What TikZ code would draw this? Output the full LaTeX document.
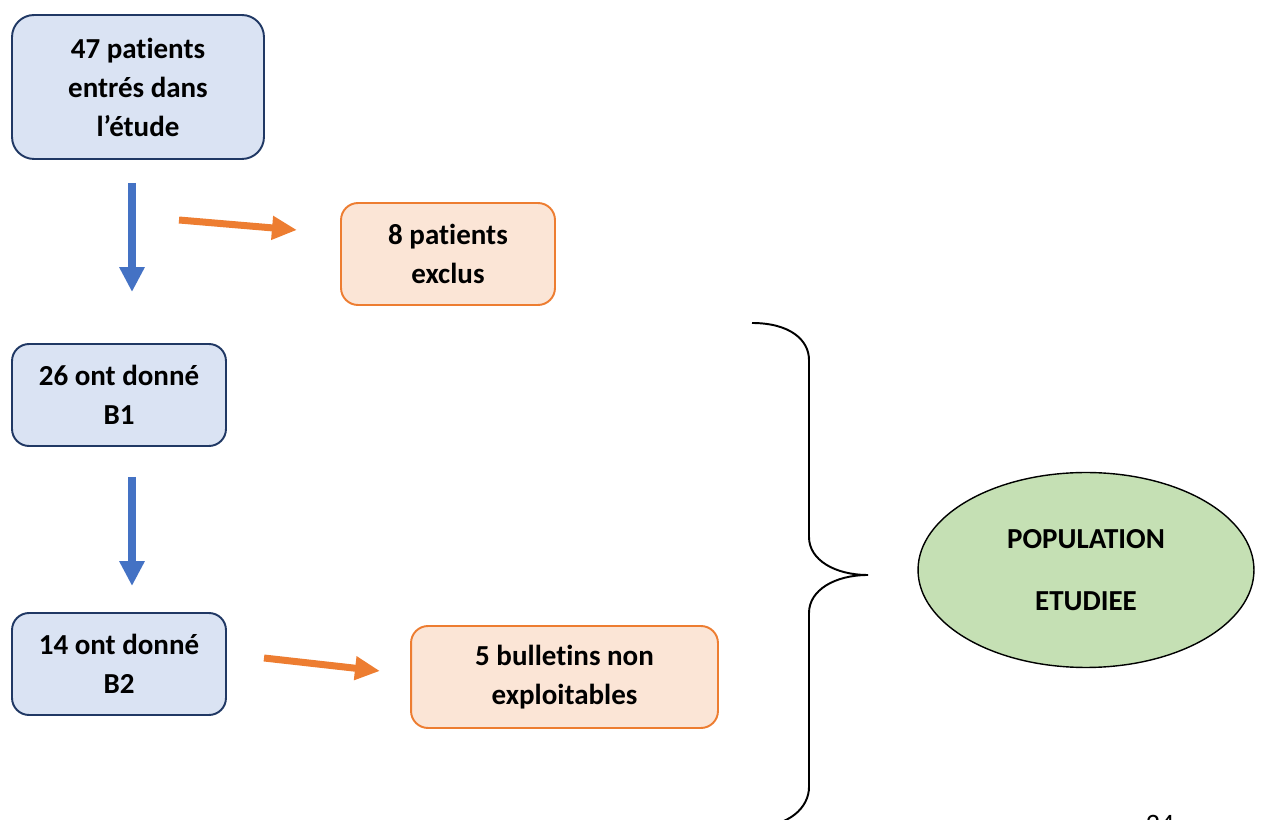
\documentclass[tikz,border=0pt]{standalone}
\usepackage{fontspec}
\setmainfont{Carlito}[Ligatures=NoCommon]
\usetikzlibrary{arrows.meta,shapes.geometric}
\definecolor{boxblue}{HTML}{DAE3F3}
\definecolor{edgeblue}{HTML}{203864}
\definecolor{boxorange}{HTML}{FBE5D6}
\definecolor{edgeorange}{HTML}{ED7D31}
\definecolor{arrowblue}{HTML}{4472C4}
\definecolor{popgreen}{HTML}{C5E0B4}
\tikzset{
        flowbox/.style={rectangle,rounded corners=0.34cm,line width=1.1pt,inner sep=0pt,align=center,
            font=\fontsize{16.5}{22.2}\selectfont\bfseries},
        bluebox/.style={flowbox,draw=edgeblue,fill=boxblue},
        orangebox/.style={flowbox,draw=edgeorange,fill=boxorange},
        bluearrow/.style={draw=arrowblue,line width=0.16cm,-{Triangle[length=0.5cm,width=0.48cm]}},
        orangearrow/.style={draw=edgeorange,line width=0.14cm,-{Triangle[length=0.5cm,width=0.45cm]}}
}
\begin{document}
\begin{tikzpicture}[x=0.02cm,y=-0.02cm]
        \useasboundingbox (0,0) rectangle (1262,820);
        \clip (0,0) rectangle (1262,820);
        \node [bluebox,rounded corners=0.44cm,minimum width=5.04cm,minimum height=2.88cm] (entres) at (138,87)
            {47 patients\\entrés dans\\l’étude};
        \node [orangebox,minimum width=4.28cm,minimum height=2.04cm] (exclus) at (448,254) {8 patients\\exclus};
        \node [bluebox,minimum width=4.28cm,minimum height=2.04cm] (bun) at (119,395) {26 ont donné\\B1};
        \node [bluebox,minimum width=4.28cm,minimum height=2.04cm] (bdeux) at (119,664) {14 ont donné\\B2};
        \node [orangebox,minimum width=6.14cm,minimum height=2.04cm] (bulletins) at (564.5,677) {5 bulletins non\\exploitables};
        \node [ellipse,draw=black,line width=0.8pt,fill=popgreen,minimum width=6.72cm,minimum height=3.9cm,inner sep=0pt,
            align=center,font=\fontsize{16.5}{21.5}\selectfont\bfseries] (population) at (1086,570)
            {POPULATION\\[13.5pt]ETUDIEE};
        \coordinate (fa) at (132,183);
        \coordinate (fb) at (132,292);
        \coordinate (fc) at (132,477);
        \coordinate (fd) at (132,586);
        \coordinate (ea) at (179,220);
        \coordinate (eb) at (297,230);
        \coordinate (ec) at (264,658);
        \coordinate (ed) at (380,671);
        \draw [bluearrow] (fa) -- (fb);
        \draw [bluearrow] (fc) -- (fd);
        \draw [orangearrow] (ea) -- (eb);
        \draw [orangearrow] (ec) -- (ed);
        \coordinate (brtip) at (868,575);
        \draw [line width=1.1pt] (752,323) .. controls (790,323) and (809,340) .. (809,360) -- (809,537)
            .. controls (809,560) and (835,575) .. (brtip) .. controls (835,575) and (809,590) .. (809,613)
            -- (809,787) .. controls (809,807) and (790,827) .. (752,827);
        \node [font=\fontsize{16}{19}\selectfont] (page) at (1160,824) {24};
\end{tikzpicture}
\end{document}
